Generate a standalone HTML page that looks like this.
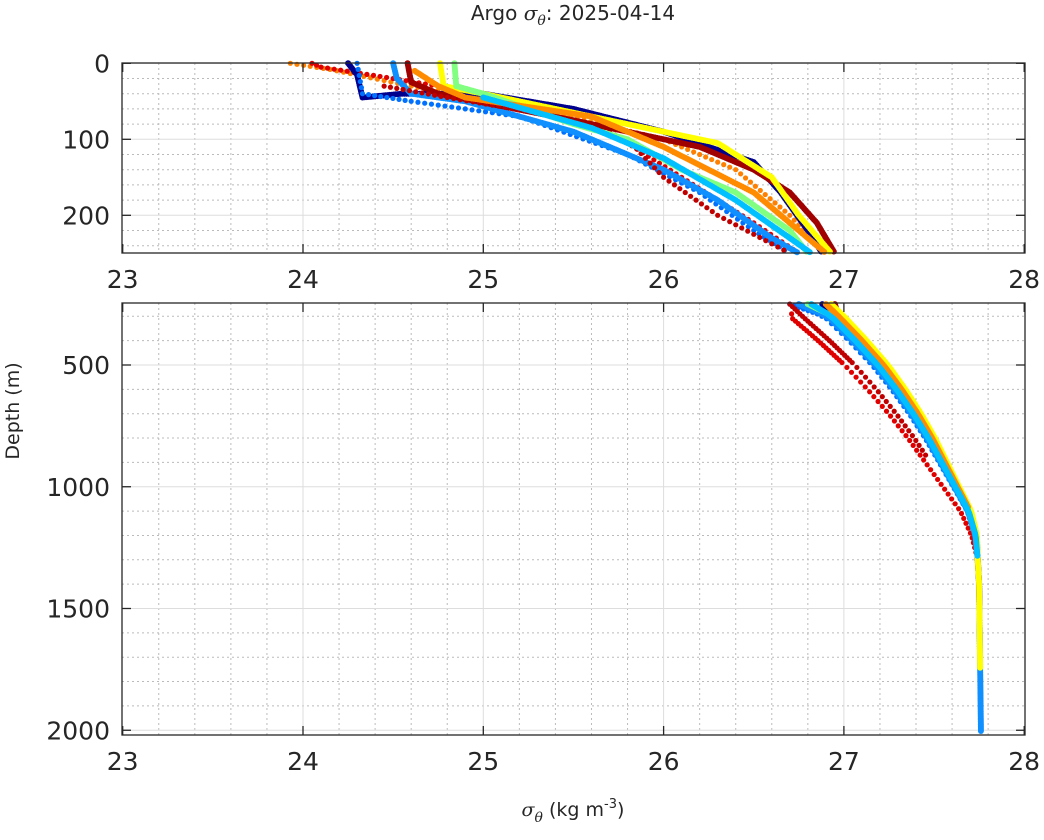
<!DOCTYPE html>
<html><head><meta charset="utf-8"><style>
body{margin:0;background:#fff;}
svg text{font-family:"DejaVu Sans","Liberation Sans",sans-serif;fill:#262626;}
</style></head><body>
<svg id="s" width="1044" height="835" xmlns="http://www.w3.org/2000/svg">
<rect width="1044" height="835" fill="#fff"/>
<g id="grid"></g>
<g id="data"></g>
<g id="axes"></g>
<text x="573" y="20" font-size="20" text-anchor="middle">Argo <tspan font-family="DejaVu Serif" font-style="italic">σ</tspan><tspan font-family="DejaVu Serif" font-style="italic" font-size="14" dy="5">θ</tspan><tspan dy="-5">: 2025-04-14</tspan></text>
<text transform="translate(19,411) rotate(-90)" font-size="19" text-anchor="middle">Depth (m)</text>
<text x="573" y="816" font-size="19" text-anchor="middle"><tspan font-family="DejaVu Serif" font-style="italic">σ</tspan><tspan font-family="DejaVu Serif" font-style="italic" font-size="14" dy="6">θ</tspan><tspan dy="-6"> (kg m</tspan><tspan font-size="13" dy="-8">-3</tspan><tspan dy="8">)</tspan></text>
</svg>
<script>
const NS="http://www.w3.org/2000/svg";
function el(p,t,a){const e=document.createElementNS(NS,t);for(const k in a)e.setAttribute(k,a[k]);p.appendChild(e);return e;}
const G=document.getElementById('grid'),D=document.getElementById('data'),A=document.getElementById('axes');
const X=s=>122.7+(s-23)*180.3;
const L=122,R=1025;
const P1={t:63,b:253,y:d=>63.3+d*0.76};
const P2={t:303,b:735,y:d=>365+(d-500)*0.2435};
function panel(P,maj,minStep,dmax){
  for(let s=23.2;s<28;s+=0.2){if(Math.abs(s-Math.round(s))<0.01)continue;el(G,'line',{x1:X(s),x2:X(s),y1:P.t,y2:P.b,stroke:'#bbb','stroke-width':1,'stroke-dasharray':'2,3'});}
  for(let d=minStep.start;d<=dmax;d+=minStep.step){const y=P.y(d);if(y<P.t||y>P.b)continue;if(maj.includes(d))continue;el(G,'line',{x1:L,x2:R,y1:y,y2:y,stroke:'#bbb','stroke-width':1,'stroke-dasharray':'2,3'});}
  for(let s=24;s<28;s++)el(G,'line',{x1:X(s),x2:X(s),y1:P.t,y2:P.b,stroke:'#ddd','stroke-width':1});
  maj.forEach(d=>{const y=P.y(d);el(G,'line',{x1:L,x2:R,y1:y,y2:y,stroke:'#ddd','stroke-width':1});
    el(A,'line',{x1:L,x2:L+9,y1:y,y2:y,stroke:'#262626','stroke-width':1.3});el(A,'line',{x1:R-9,x2:R,y1:y,y2:y,stroke:'#262626','stroke-width':1.3});
    const t=el(A,'text',{x:L-12,y:y+9,'font-size':25,'text-anchor':'end'});t.textContent=d;});
  for(let s=23;s<=28;s++){const x=X(s);el(A,'line',{x1:x,x2:x,y1:P.b-9,y2:P.b,stroke:'#262626','stroke-width':1.3});el(A,'line',{x1:x,x2:x,y1:P.t,y2:P.t+9,stroke:'#262626','stroke-width':1.3});
    const t=el(A,'text',{x:x,y:P.b+35,'font-size':25,'text-anchor':'middle'});t.textContent=s;}
  el(A,'rect',{x:L,y:P.t,width:R-L,height:P.b-P.t,fill:'none',stroke:'#262626','stroke-width':1.3});
}
panel(P1,[0,100,200],{start:20,step:20},250);
panel(P2,[500,1000,1500,2000],{start:300,step:100},2020);

const deep=[[250,0],[300,26.97],[400,27.1],[500,27.22],[600,27.32],[700,27.41],[800,27.49],[900,27.56],[1000,27.63],[1100,27.7],[1200,27.735],[1400,27.75],[2000,27.76]];
function dv(d,off){for(let i=1;i<deep.length-1;i++){const a=deep[i],b=deep[i+1];if(d<=b[0]){return a[1]+(b[1]-a[1])*(d-a[0])/(b[0]-a[0])+off*Math.max(0,1-(d-300)/1000);}}return 27.76;}
const profs=[
 {c:'#ff8000',p:[[23.93,0],[24.15,8],[24.6,30],[25.3,60],[26.0,100],[26.4,140],[26.7,200],[26.9,250]],o:-0.04,e:1800,dot:1},
 {c:'#e00000',p:[[24.05,0],[24.1,5],[24.5,20],[25.0,40],[25.7,90],[26.1,150],[26.5,210],[26.75,250]],o:-0.27,e:2010,dot:1},
 {c:'#00008f',p:[[24.25,0],[24.3,15],[24.33,45],[24.55,40],[25.0,40],[25.5,60],[26.0,90],[26.5,130],[26.65,170],[26.8,220],[26.88,250]],o:0.02,e:1700},
 {c:'#0070ff',p:[[24.3,0],[24.33,40],[24.6,50],[25.2,70],[25.8,120],[26.2,170],[26.5,220],[26.7,250]],o:-0.08,e:2010,dot:1},
 {c:'#1090ff',p:[[24.5,0],[24.52,20],[24.6,40],[24.9,50],[25.5,90],[26.0,140],[26.3,180],[26.6,230],[26.75,250]],o:-0.06,e:2010},
 {c:'#a00000',p:[[24.58,0],[24.6,25],[24.75,40],[25.5,75],[26.2,110],[26.5,140],[26.7,170],[26.85,210],[26.95,250]],o:0.0,e:1500},
 {c:'#c00000',p:[[24.45,30],[24.8,45],[25.3,65],[25.8,100],[26.0,150],[26.3,200],[26.7,250]],o:-0.2,e:900,dot:1},
 {c:'#ffff00',p:[[24.76,0],[24.78,30],[25.0,40],[25.7,75],[26.3,105],[26.6,150],[26.75,200],[26.93,250]],o:0.03,e:1750},
 {c:'#80ff80',p:[[24.84,0],[24.85,30],[25.0,40],[25.5,80],[25.8,100],[26.1,140],[26.4,170],[26.7,220],[26.8,250]],o:-0.03,e:1000},
 {c:'#ff8c00',p:[[24.62,10],[24.75,30],[24.9,45],[25.6,70],[26.0,110],[26.5,170],[26.9,250]],o:0.0,e:1100},
 {c:'#00c0ff',p:[[25.0,45],[25.6,85],[26.0,125],[26.4,180],[26.7,230],[26.82,250]],o:-0.04,e:1300},
];
function drawPath(pts,c,dot,P){
  for(let i=0;i<pts.length-1;i++){const [x1,y1]=pts[i],[x2,y2]=pts[i+1];const len=Math.hypot(x2-x1,y2-y1);const st=dot?7:2.2;const n=Math.max(1,Math.ceil(len/st));
    for(let k=0;k<n;k++){const t=k/n;const y=y1+(y2-y1)*t;if(y<P.t-1||y>P.b+1)continue;el(D,'circle',{cx:x1+(x2-x1)*t,cy:y,r:dot?2.6:3,fill:c});}}
}
profs.forEach(pr=>{
  drawPath(pr.p.map(([s,d])=>[X(s),P1.y(d)]),pr.c,pr.dot,P1);
  const last=pr.p[pr.p.length-1][1];
  if(last>=250){const pts=[];for(let d=250;d<=pr.e;d+=20){let v=d<=300?pr.p[pr.p.length-1][0]+(dv(300,pr.o)-pr.p[pr.p.length-1][0])*(d-250)/50:dv(d,pr.o);pts.push([X(v),P2.y(d)]);}
  drawPath(pts,pr.c,pr.dot,P2);}
});
</script>
</body></html>
